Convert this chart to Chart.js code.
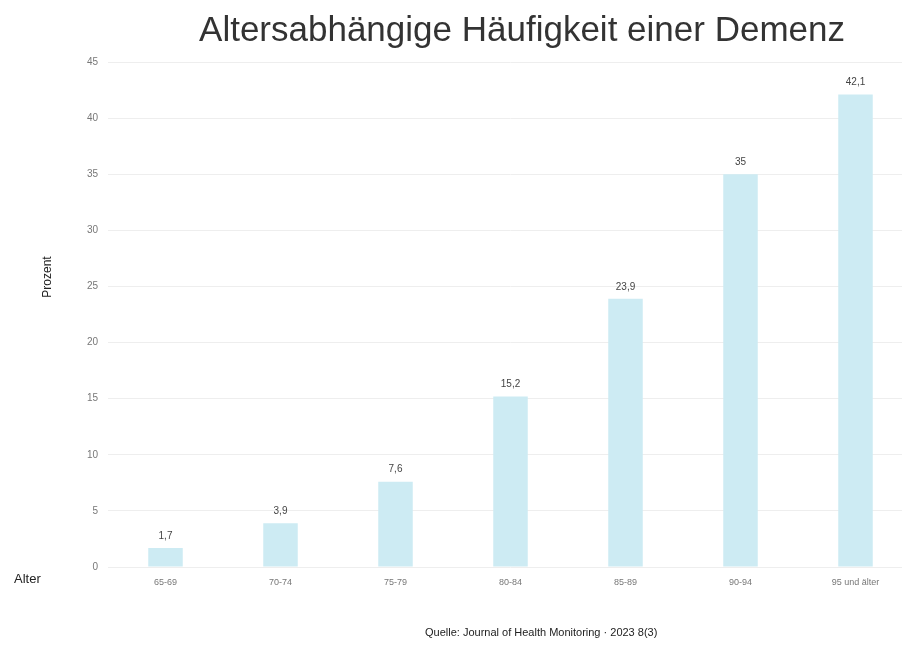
<!DOCTYPE html>
<html lang="de">
<head>
<meta charset="utf-8">
<title>Altersabhängige Häufigkeit einer Demenz</title>
<script src="https://cdn.jsdelivr.net/npm/chart.js@4.4.1/dist/chart.umd.min.js"></script>
<style>
  html, body { margin: 0; padding: 0; background: #fff; overflow: hidden; }
  /* a bit wider than the window: the last column runs off the right edge */
  #wrap { width: 913px; height: 649px; position: relative; }
</style>
</head>
<body>
<div id="wrap"><canvas id="myChart"></canvas></div>
<script>
const ageGroups = ['65-69', '70-74', '75-79', '80-84', '85-89', '90-94', '95 und älter'];
const percentValues = [1.7, 3.9, 7.6, 15.2, 23.9, 35, 42.1];
const yTicks = [0, 5, 10, 15, 20, 25, 30, 35, 40, 45];

const FONT = "'Liberation Sans', Arial, sans-serif";

// title, axis names and the source line are placed by hand
const extraText = {
  id: 'extraText',
  afterDraw( chart ) {
    const ctx = chart.ctx;
    ctx.save();
    ctx.fillStyle = '#333';
    ctx.textAlign = 'center';
    ctx.textBaseline = 'middle';
    ctx.font = '35px ' + FONT;
    ctx.fillText( 'Altersabhängige Häufigkeit einer Demenz', 522, 31 );

    ctx.fillStyle = '#222';
    ctx.font = '12px ' + FONT;
    ctx.save();
    ctx.translate( 48, 277 );
    ctx.rotate( -Math.PI / 2 );
    ctx.fillText( 'Prozent', 0, 0 );
    ctx.restore();

    ctx.font = '13px ' + FONT;
    ctx.textAlign = 'left';
    ctx.fillText( 'Alter', 14, 579 );

    ctx.font = '11px ' + FONT;
    ctx.fillText( 'Quelle: Journal of Health Monitoring · 2023 8(3)', 425, 633 );
    ctx.restore();
  }
};

// value labels above the bars
const barValues = {
  id: 'barValues',
  afterDatasetsDraw( chart ) {
    const ctx = chart.ctx;
    const meta = chart.getDatasetMeta( 0 );
    ctx.save();
    ctx.fillStyle = '#444';
    ctx.font = '10px ' + FONT;
    ctx.textAlign = 'center';
    ctx.textBaseline = 'bottom';
    meta.data.forEach( ( bar, i ) => {
      const label = String( percentValues[i] ).replace( '.', ',' );
      ctx.fillText( label, bar.x, bar.y - 7 );
    } );
    ctx.restore();
  }
};

new Chart( document.getElementById( 'myChart' ), {
  type: 'bar',
  data: {
    labels: ageGroups,
    datasets: [{
      label: 'Prozent',
      data: percentValues,
      backgroundColor: '#cdebf3',
      barPercentage: 0.3,
      categoryPercentage: 1,
    }],
  },
  options: {
    responsive: true,
    maintainAspectRatio: false,
    animation: false,
    layout: {
      padding: { top: 62, right: 0, left: 0, bottom: 0 },
    },
    scales: {
      x: {
        grid: { display: false, drawTicks: false },
        border: { display: false },
        ticks: {
          color: '#777',
          padding: 10,
          maxRotation: 0,
          font: { family: FONT, size: 9 },
        },
        afterFit( scale ) {
          scale.height = 82;
        },
      },
      y: {
        min: 0,
        max: 45,
        afterBuildTicks( scale ) {
          scale.ticks = yTicks.map( v => ( { value: v } ) );
        },
        grid: { color: '#eeeeee', drawTicks: false },
        border: { display: false },
        ticks: {
          color: '#777',
          padding: 10,
          font: { family: FONT, size: 10 },
        },
        afterFit( scale ) {
          scale.width = 108;
        },
      },
    },
    plugins: {
      legend: { display: false },
      tooltip: { enabled: false },
    },
  },
  plugins: [barValues, extraText],
} );
</script>
</body>
</html>
